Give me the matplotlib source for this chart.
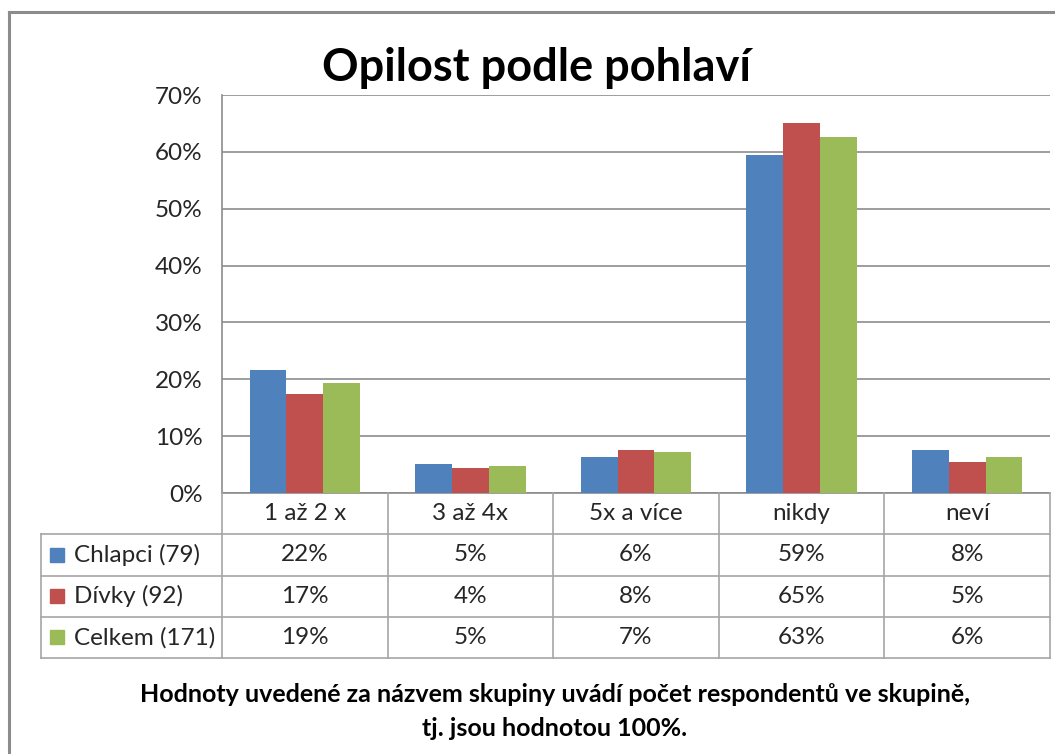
import matplotlib.pyplot as plt
from matplotlib.lines import Line2D
from matplotlib.patches import Rectangle
import numpy as np

plt.rcParams['font.family'] = ['Lato', 'DejaVu Sans']

categories = ['1 až 2 x', '3 až 4x', '5x a více', 'nikdy', 'neví']
series = ['Chlapci (79)', 'Dívky (92)', 'Celkem (171)']
chlapci = [21.6, 5.1, 6.4, 59.4, 7.6]
divky = [17.4, 4.4, 7.6, 65.0, 5.4]
celkem = [19.3, 4.7, 7.2, 62.6, 6.4]
colors = ['#4F81BD', '#C0504D', '#9BBB59']
yticks = [0, 10, 20, 30, 40, 50, 60, 70]

values = [chlapci, divky, celkem]
W, H = 1055, 754
fig = plt.figure(figsize=(W / 100, H / 100), dpi=100)

def fx(px):
    return px / W

def fy(py):
    return 1 - py / H

text_col = '#262626'
grid_col = '#8C8C8C'
line_col = '#A6A6A6'

# outer frame
fig.add_artist(Line2D([fx(9), 1], [fy(12), fy(12)], color='#8C8C8C', lw=2.2))
fig.add_artist(Line2D([fx(9), fx(9)], [fy(12), 0], color='#8C8C8C', lw=2.2))

# bar chart
x0, x1, ytop, ybot = 222, 1050, 95, 493
ax = fig.add_axes([fx(x0), fy(ybot), fx(x1 - x0), (ybot - ytop) / H])
x = np.arange(len(categories))
bw = 0.222
for i, (vals, c) in enumerate(zip(values, colors)):
    ax.bar(x + (i - 1) * bw, vals, width=bw, color=c, zorder=3)
ax.set_xlim(-0.5, len(categories) - 0.5)
ax.set_ylim(0, 70)
ax.set_yticks(yticks)
ax.set_yticklabels([f'{t}%' for t in yticks], fontsize=17.5, color=text_col)
ax.tick_params(axis='y', length=0, pad=14)
ax.set_xticks([])
ax.grid(axis='y', color=grid_col, lw=1.2, zorder=0)
for s in ['top', 'right']:
    ax.spines[s].set_visible(False)
ax.spines['left'].set_color(grid_col)
ax.spines['left'].set_linewidth(1.2)
ax.spines['bottom'].set_color(grid_col)
ax.spines['bottom'].set_linewidth(1.2)

fig.text(fx(537), fy(68), 'Opilost podle pohlaví', fontsize=32.5, fontweight='bold',
         ha='center', va='center', color='black')

# data table
tleft, tbot = 41, 658
wlab = (x0 - tleft) / ((x1 - x0) / len(categories))
tax = fig.add_axes([fx(tleft), fy(tbot), fx(x1 - tleft), (tbot - ybot) / H])
tax.set_xlim(-0.5 - wlab, len(categories) - 0.5)
tax.set_ylim(4, 0)
tax.axis('off')
xl = -0.5 - wlab
xr = len(categories) - 0.5
kw = dict(color=line_col, lw=1.2, clip_on=False)
tax.plot([xl, xr], [4, 4], **kw)
for r in [1, 2, 3]:
    tax.plot([xl, xr], [r, r], **kw)
tax.plot([xl, xl], [1, 4], **kw)
for k in range(len(categories) + 1):
    tax.plot([k - 0.5, k - 0.5], [0, 4], **kw)
for k, cat in enumerate(categories):
    tax.text(k, 0.5, cat, ha='center', va='center', fontsize=17.5, color=text_col)
for r, (name, vals, c) in enumerate(zip(series, values, colors), start=1):
    tax.add_patch(Rectangle((xl + 0.055, r + 0.33), 0.085, 0.34, color=c, clip_on=False))
    tax.text(xl + 0.2, r + 0.5, name, ha='left', va='center', fontsize=17.5, color=text_col)
    for k, v in enumerate(vals):
        tax.text(k, r + 0.5, f'{v:.0f}%', ha='center', va='center', fontsize=17.5, color=text_col)

fig.text(fx(555), fy(695), 'Hodnoty uvedené za názvem skupiny uvádí počet respondentů ve skupině,',
         fontsize=18, fontweight='bold', ha='center', va='center', color='black')
fig.text(fx(555), fy(728), 'tj. jsou hodnotou 100%.',
         fontsize=18, fontweight='bold', ha='center', va='center', color='black')

fig.savefig('out.png', dpi=100, facecolor='white')
